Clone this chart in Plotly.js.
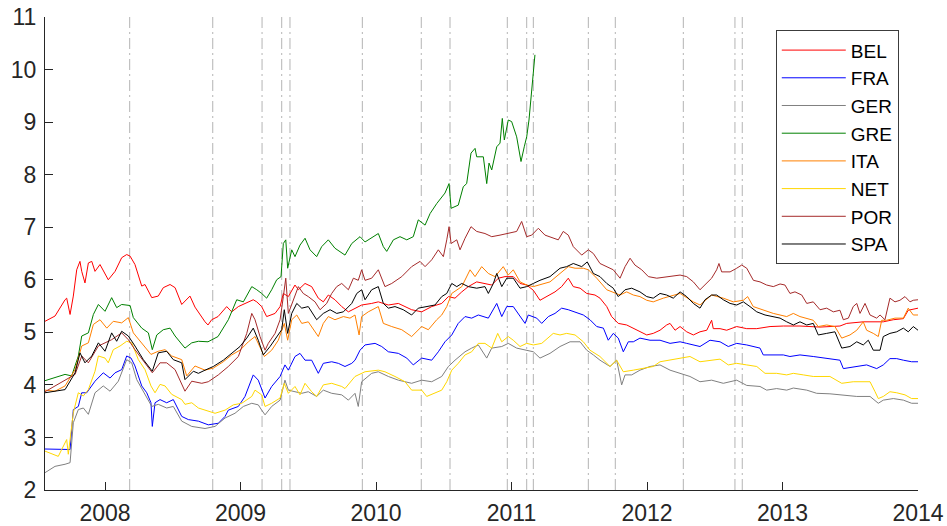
<!DOCTYPE html>
<html>
<head>
<meta charset="utf-8">
<script src="https://cdn.plot.ly/plotly-3.0.1.min.js"></script>
<style>html,body{margin:0;padding:0;background:#fff;}#chart{width:947px;height:526px;}</style>
</head>
<body>
<div id="chart"></div>
<script>
// Series names and colours
const seriesNames = ["BEL","FRA","GER","GRE","ITA","NET","POR","SPA"];
const seriesColors = ["#ff0000","#0000ff","#808080","#008000","#ff8000","#ffd700","#a52a2a","#000000"];

// Year ticks and event dates (decimal years)
const yearTicks = [2008,2009,2010,2011,2012,2013,2014];
const eventDates = [2008.182,2008.795,2009.159,2009.304,2009.365,2009.899,2010.334,2010.546,2010.969,2011.112,2011.161,2011.567,2011.766,2012.268,2012.649,2012.703];

// BEL
const belX = [2007.557,2007.631,2007.705,2007.717,2007.742,2007.766,2007.791,2007.815,2007.828,2007.852,2007.877,2007.902,2007.926,2007.963,2008.024,2008.074,2008.123,2008.160,2008.185,2008.221,2008.271,2008.295,2008.345,2008.393,2008.430,2008.480,2008.517,2008.566,2008.627,2008.664,2008.738,2008.760,2008.787,2008.834,2008.898,2008.935,2008.984,2009.033,2009.094,2009.120,2009.156,2009.193,2009.255,2009.292,2009.316,2009.353,2009.402,2009.427,2009.476,2009.525,2009.574,2009.611,2009.648,2009.697,2009.747,2009.796,2009.845,2009.894,2009.968,2010.017,2010.091,2010.165,2010.263,2010.337,2010.411,2010.485,2010.534,2010.583,2010.633,2010.681,2010.743,2010.804,2010.854,2010.903,2010.952,2011.013,2011.063,2011.112,2011.161,2011.210,2011.260,2011.321,2011.370,2011.419,2011.456,2011.506,2011.555,2011.616,2011.653,2011.703,2011.739,2011.788,2011.850,2011.899,2011.948,2011.998,2012.046,2012.096,2012.145,2012.170,2012.207,2012.244,2012.293,2012.342,2012.391,2012.441,2012.477,2012.489,2012.539,2012.588,2012.662,2012.736,2012.810,2012.908,2013.006,2013.129,2013.277,2013.424,2013.474,2013.596,2013.744,2013.818,2013.892,2013.928,2014.000];
const belY = [5.21,5.31,5.62,5.65,5.34,5.69,6.19,6.35,6.16,5.94,6.32,6.35,6.16,6.29,6.00,6.16,6.42,6.48,6.45,6.29,5.88,5.91,5.66,5.69,5.85,5.91,5.85,5.53,5.69,5.48,5.20,5.14,5.24,5.30,5.49,5.39,5.49,5.55,5.62,5.58,5.49,5.30,5.36,5.49,5.74,5.68,5.90,5.81,5.93,5.87,5.65,5.58,5.71,5.62,5.49,5.39,5.46,5.52,5.55,5.58,5.52,5.55,5.43,5.39,5.49,5.55,5.68,5.65,5.77,5.87,5.96,5.93,5.90,6.03,6.06,6.06,5.93,5.90,5.80,5.61,5.68,5.77,5.87,6.03,5.87,5.84,5.74,5.71,5.65,5.49,5.30,5.17,5.14,5.08,5.01,4.95,4.98,5.04,5.14,5.17,5.04,5.11,5.01,4.95,5.01,5.04,5.23,5.07,5.07,5.04,5.11,5.07,5.07,5.11,5.12,5.12,5.10,5.12,5.17,5.20,5.20,5.24,5.26,5.42,5.46];

// FRA
const fraX = [2007.557,2007.705,2007.742,2007.766,2007.803,2007.828,2007.865,2007.926,2007.987,2008.037,2008.074,2008.123,2008.160,2008.192,2008.221,2008.271,2008.308,2008.339,2008.349,2008.369,2008.406,2008.455,2008.504,2008.566,2008.615,2008.689,2008.762,2008.836,2008.886,2008.910,2008.984,2009.033,2009.094,2009.131,2009.156,2009.181,2009.230,2009.292,2009.328,2009.353,2009.402,2009.439,2009.476,2009.525,2009.574,2009.611,2009.673,2009.722,2009.771,2009.821,2009.845,2009.882,2009.919,2009.993,2010.042,2010.091,2010.165,2010.227,2010.275,2010.337,2010.411,2010.460,2010.509,2010.559,2010.607,2010.657,2010.706,2010.755,2010.829,2010.891,2010.928,2010.965,2011.013,2011.063,2011.100,2011.124,2011.186,2011.223,2011.272,2011.321,2011.370,2011.419,2011.469,2011.530,2011.579,2011.629,2011.678,2011.714,2011.751,2011.788,2011.825,2011.862,2011.899,2011.948,2012.022,2012.096,2012.170,2012.244,2012.293,2012.342,2012.391,2012.465,2012.539,2012.600,2012.662,2012.736,2012.834,2012.858,2012.932,2013.006,2013.055,2013.129,2013.227,2013.326,2013.424,2013.449,2013.548,2013.621,2013.695,2013.744,2013.793,2013.843,2013.892,2013.953,2014.000];
const fraY = [2.78,2.78,2.77,3.53,3.59,3.85,3.85,4.07,4.23,4.13,4.23,4.29,4.55,4.51,4.36,3.98,3.85,3.66,3.21,3.66,3.72,3.66,3.72,3.40,3.34,3.31,3.24,3.27,3.40,3.52,3.59,3.78,4.19,4.09,3.90,3.75,3.97,4.16,4.38,4.28,4.54,4.60,4.47,4.47,4.22,4.41,4.44,4.41,4.35,4.41,4.47,4.66,4.76,4.79,4.73,4.63,4.60,4.51,4.38,4.51,4.47,4.63,4.82,4.95,5.17,5.30,5.27,5.33,5.27,5.55,5.30,5.49,5.49,5.30,5.17,5.33,5.27,5.17,5.30,5.36,5.46,5.43,5.39,5.33,5.24,5.11,5.08,4.85,4.98,4.89,4.63,4.82,4.82,4.89,4.85,4.85,4.79,4.82,4.79,4.76,4.73,4.85,4.82,4.73,4.79,4.76,4.70,4.57,4.57,4.57,4.54,4.57,4.54,4.51,4.47,4.31,4.35,4.38,4.31,4.38,4.50,4.50,4.47,4.44,4.44];

// GER
const gerX = [2007.557,2007.631,2007.705,2007.742,2007.766,2007.803,2007.840,2007.877,2007.926,2007.987,2008.037,2008.098,2008.160,2008.197,2008.234,2008.295,2008.345,2008.393,2008.455,2008.504,2008.566,2008.640,2008.738,2008.812,2008.886,2008.959,2009.021,2009.083,2009.131,2009.156,2009.181,2009.230,2009.292,2009.328,2009.353,2009.402,2009.452,2009.500,2009.562,2009.611,2009.673,2009.747,2009.796,2009.845,2009.869,2009.894,2009.968,2010.017,2010.091,2010.165,2010.263,2010.337,2010.411,2010.485,2010.534,2010.583,2010.657,2010.706,2010.755,2010.817,2010.854,2010.928,2010.976,2011.038,2011.112,2011.161,2011.210,2011.284,2011.358,2011.432,2011.506,2011.555,2011.604,2011.653,2011.727,2011.776,2011.813,2011.838,2011.887,2011.948,2012.022,2012.096,2012.170,2012.244,2012.317,2012.391,2012.477,2012.563,2012.662,2012.736,2012.834,2012.883,2012.957,2013.031,2013.080,2013.179,2013.252,2013.350,2013.449,2013.548,2013.646,2013.707,2013.744,2013.818,2013.892,2013.953,2014.000];
const gerY = [2.33,2.45,2.49,2.52,3.28,3.53,3.56,3.44,3.85,3.98,3.88,4.07,4.48,4.42,4.10,3.82,3.59,3.63,3.56,3.59,3.31,3.21,3.17,3.21,3.37,3.46,3.59,3.65,3.62,3.52,3.43,3.59,3.71,4.09,3.90,3.87,3.84,3.87,3.78,3.90,3.84,3.81,3.71,3.84,3.59,4.06,4.22,4.25,4.16,4.09,4.03,4.09,4.06,4.16,4.35,4.47,4.63,4.70,4.76,4.51,4.70,4.73,4.79,4.70,4.66,4.63,4.51,4.60,4.73,4.82,4.82,4.66,4.57,4.47,4.35,4.47,4.00,4.19,4.19,4.28,4.35,4.38,4.28,4.22,4.16,4.06,4.09,4.03,4.09,3.99,3.97,3.90,3.93,3.90,3.94,3.90,3.84,3.83,3.81,3.78,3.78,3.65,3.71,3.74,3.71,3.65,3.65];

// GRE
const greX = [2007.557,2007.705,2007.754,2007.803,2007.828,2007.877,2007.914,2007.951,2008.000,2008.049,2008.086,2008.123,2008.185,2008.209,2008.271,2008.320,2008.349,2008.382,2008.430,2008.480,2008.517,2008.590,2008.640,2008.689,2008.760,2008.834,2008.910,2008.972,2009.021,2009.083,2009.120,2009.156,2009.193,2009.230,2009.267,2009.299,2009.316,2009.334,2009.348,2009.378,2009.402,2009.439,2009.476,2009.513,2009.562,2009.599,2009.648,2009.697,2009.771,2009.821,2009.882,2009.919,2010.017,2010.054,2010.079,2010.128,2010.177,2010.227,2010.275,2010.312,2010.362,2010.399,2010.448,2010.485,2010.509,2010.539,2010.554,2010.607,2010.644,2010.669,2010.701,2010.731,2010.743,2010.792,2010.817,2010.834,2010.854,2010.891,2010.915,2010.932,2010.947,2010.976,2011.001,2011.038,2011.070,2011.094,2011.112,2011.129,2011.149,2011.173];
const greY = [4.08,4.20,4.17,4.55,4.93,4.99,5.34,5.53,5.40,5.66,5.47,5.53,5.51,5.28,5.08,4.99,4.67,4.95,5.05,5.08,4.93,4.70,4.80,4.83,4.82,4.92,5.24,5.62,5.58,5.87,5.81,5.74,5.65,5.81,6.00,6.06,6.69,6.76,6.22,6.57,6.44,6.66,6.79,6.57,6.44,6.63,6.76,6.60,6.47,6.69,6.82,6.72,6.88,6.63,6.54,6.76,6.82,6.76,6.82,7.14,7.04,7.26,7.45,7.58,7.65,7.83,7.36,7.42,7.77,7.83,8.41,8.50,8.34,8.34,7.83,8.22,8.09,8.53,8.60,9.07,8.66,9.04,9.01,8.72,8.25,8.53,8.72,9.04,9.61,10.28];

// ITA
const itaX = [2007.557,2007.631,2007.705,2007.779,2007.828,2007.877,2007.914,2007.963,2008.013,2008.061,2008.123,2008.172,2008.209,2008.271,2008.339,2008.393,2008.443,2008.492,2008.566,2008.603,2008.664,2008.738,2008.799,2008.873,2008.935,2008.996,2009.058,2009.107,2009.156,2009.176,2009.230,2009.279,2009.323,2009.348,2009.378,2009.415,2009.452,2009.500,2009.574,2009.611,2009.648,2009.697,2009.759,2009.808,2009.845,2009.875,2009.894,2009.943,2010.017,2010.054,2010.116,2010.190,2010.263,2010.337,2010.386,2010.448,2010.485,2010.522,2010.559,2010.633,2010.694,2010.731,2010.780,2010.829,2010.878,2010.939,2010.976,2011.013,2011.063,2011.112,2011.161,2011.210,2011.284,2011.358,2011.419,2011.469,2011.530,2011.567,2011.629,2011.703,2011.764,2011.801,2011.850,2011.899,2011.948,2011.998,2012.046,2012.120,2012.244,2012.342,2012.391,2012.477,2012.563,2012.637,2012.711,2012.743,2012.784,2012.858,2012.932,2013.031,2013.080,2013.129,2013.179,2013.227,2013.264,2013.326,2013.387,2013.437,2013.498,2013.548,2013.596,2013.621,2013.670,2013.707,2013.732,2013.769,2013.830,2013.892,2013.928,2013.965,2014.000];
const itaY = [3.90,3.88,3.98,4.29,4.74,4.80,5.15,5.24,5.08,5.21,5.18,5.28,4.99,4.80,4.58,4.64,4.67,4.55,4.48,4.17,4.36,4.28,4.32,4.44,4.57,4.66,4.82,4.92,4.66,4.54,4.66,4.85,5.17,4.85,5.24,5.33,5.17,5.20,4.92,5.17,5.30,5.24,5.30,5.27,5.33,4.95,5.30,5.39,5.49,5.17,5.11,5.05,4.92,5.11,5.05,5.24,5.33,5.49,5.74,5.87,6.19,6.06,6.25,6.12,6.06,6.25,6.09,6.19,5.96,5.90,5.87,5.90,5.96,6.12,6.25,6.22,6.22,6.19,6.03,5.81,5.74,5.71,5.77,5.71,5.68,5.61,5.58,5.65,5.74,5.58,5.52,5.71,5.65,5.58,5.61,5.68,5.49,5.42,5.36,5.30,5.36,5.30,5.27,5.23,5.11,5.14,5.11,4.89,4.95,5.04,5.20,5.04,4.98,4.92,5.23,5.23,5.27,5.27,5.46,5.33,5.33];

// NET
const netX = [2007.557,2007.655,2007.717,2007.729,2007.766,2007.803,2007.840,2007.877,2007.926,2007.951,2008.000,2008.024,2008.061,2008.111,2008.160,2008.197,2008.246,2008.295,2008.339,2008.369,2008.406,2008.443,2008.492,2008.566,2008.590,2008.640,2008.689,2008.738,2008.812,2008.886,2008.947,2009.009,2009.083,2009.107,2009.156,2009.181,2009.230,2009.292,2009.323,2009.353,2009.402,2009.439,2009.476,2009.525,2009.562,2009.611,2009.673,2009.747,2009.771,2009.845,2009.919,2010.017,2010.066,2010.140,2010.214,2010.263,2010.337,2010.374,2010.435,2010.485,2010.522,2010.559,2010.607,2010.657,2010.706,2010.755,2010.804,2010.854,2010.898,2010.928,2010.976,2011.013,2011.063,2011.112,2011.161,2011.223,2011.308,2011.358,2011.407,2011.469,2011.530,2011.579,2011.653,2011.727,2011.776,2011.825,2011.899,2011.973,2012.046,2012.096,2012.170,2012.244,2012.317,2012.391,2012.477,2012.539,2012.600,2012.662,2012.736,2012.810,2012.871,2012.957,2013.031,2013.080,2013.154,2013.227,2013.350,2013.437,2013.522,2013.646,2013.683,2013.707,2013.744,2013.793,2013.843,2013.904,2013.953,2014.000];
const netY = [2.74,2.64,2.96,2.68,3.47,3.85,3.79,3.91,4.26,4.55,4.51,4.42,4.67,4.74,4.83,4.80,4.48,4.29,3.98,3.85,4.01,3.98,3.82,3.72,3.63,3.66,3.56,3.52,3.46,3.52,3.62,3.65,3.78,3.90,3.81,3.59,3.65,3.75,4.03,3.84,3.97,3.81,4.03,3.87,3.78,4.00,4.03,3.97,3.93,4.16,4.25,4.28,4.25,4.16,4.06,3.90,3.90,3.78,3.84,3.90,4.06,4.28,4.41,4.57,4.63,4.79,4.79,4.70,4.98,4.82,4.92,4.85,4.73,4.79,4.76,4.79,4.98,4.95,4.98,4.95,4.82,4.66,4.54,4.35,4.47,4.25,4.28,4.32,4.35,4.44,4.47,4.50,4.54,4.44,4.47,4.49,4.38,4.41,4.38,4.35,4.22,4.22,4.19,4.22,4.19,4.16,4.16,4.03,4.06,4.06,3.87,3.74,3.78,3.87,3.85,3.81,3.74,3.74];

// POR
const porX = [2007.557,2007.779,2007.828,2007.877,2007.951,2008.049,2008.123,2008.172,2008.221,2008.295,2008.349,2008.406,2008.455,2008.517,2008.590,2008.640,2008.714,2008.762,2008.836,2008.910,2008.984,2009.046,2009.083,2009.107,2009.144,2009.181,2009.205,2009.255,2009.292,2009.316,2009.334,2009.353,2009.390,2009.427,2009.463,2009.500,2009.550,2009.587,2009.636,2009.673,2009.710,2009.747,2009.796,2009.833,2009.869,2009.894,2009.919,2009.968,2010.017,2010.066,2010.116,2010.190,2010.263,2010.325,2010.362,2010.411,2010.460,2010.497,2010.522,2010.539,2010.554,2010.596,2010.620,2010.657,2010.701,2010.743,2010.804,2010.854,2010.915,2010.976,2011.038,2011.075,2011.112,2011.149,2011.198,2011.247,2011.309,2011.345,2011.382,2011.419,2011.456,2011.518,2011.567,2011.604,2011.653,2011.703,2011.751,2011.801,2011.838,2011.875,2011.911,2011.961,2012.010,2012.072,2012.170,2012.244,2012.293,2012.342,2012.391,2012.428,2012.477,2012.514,2012.531,2012.551,2012.613,2012.662,2012.699,2012.736,2012.785,2012.834,2012.883,2012.932,2012.982,2013.018,2013.055,2013.092,2013.142,2013.179,2013.227,2013.277,2013.326,2013.375,2013.424,2013.449,2013.486,2013.522,2013.548,2013.572,2013.609,2013.646,2013.695,2013.720,2013.756,2013.793,2013.830,2013.867,2013.904,2013.941,2013.965,2014.000];
const porY = [3.87,4.20,4.55,4.42,4.74,4.86,4.99,4.86,4.67,4.42,4.23,4.42,4.42,4.29,3.88,4.07,4.03,4.06,4.19,4.35,4.54,4.98,5.36,5.24,4.92,4.66,4.79,4.98,5.24,5.68,6.03,5.36,5.62,5.87,5.74,5.68,5.58,5.43,5.55,5.74,5.87,5.93,5.81,6.03,5.99,6.19,5.99,6.03,6.19,5.87,5.93,6.06,6.25,6.35,6.25,6.38,6.57,6.44,6.76,7.01,6.69,6.76,6.57,6.79,7.01,6.92,6.88,6.82,6.85,6.88,6.92,7.11,6.82,6.85,6.98,6.85,6.79,6.76,6.92,6.85,6.63,6.47,6.57,6.50,6.31,6.25,6.19,6.03,6.25,6.41,6.28,6.19,6.06,6.03,6.06,6.09,6.06,5.96,5.81,5.90,6.03,6.19,6.31,6.15,6.15,6.22,6.28,6.22,5.99,5.96,5.90,5.87,5.92,5.90,5.74,5.77,5.71,5.55,5.58,5.43,5.46,5.39,5.42,5.24,5.27,5.49,5.55,5.36,5.55,5.33,5.27,5.33,5.24,5.65,5.58,5.61,5.68,5.58,5.61,5.62];

// SPA
const spaX = [2007.557,2007.705,2007.779,2007.815,2007.852,2007.902,2007.951,2008.000,2008.049,2008.086,2008.123,2008.172,2008.221,2008.283,2008.349,2008.393,2008.455,2008.504,2008.566,2008.590,2008.652,2008.689,2008.738,2008.799,2008.873,2008.935,2008.996,2009.046,2009.094,2009.131,2009.168,2009.218,2009.267,2009.304,2009.323,2009.348,2009.378,2009.415,2009.452,2009.500,2009.562,2009.611,2009.661,2009.710,2009.759,2009.821,2009.858,2009.894,2009.919,2009.968,2010.017,2010.054,2010.091,2010.140,2010.201,2010.263,2010.312,2010.374,2010.435,2010.485,2010.522,2010.559,2010.596,2010.633,2010.681,2010.743,2010.804,2010.829,2010.866,2010.891,2010.928,2010.965,2011.013,2011.063,2011.112,2011.161,2011.210,2011.284,2011.358,2011.407,2011.456,2011.518,2011.559,2011.604,2011.653,2011.703,2011.751,2011.788,2011.838,2011.887,2011.948,2011.998,2012.046,2012.096,2012.145,2012.194,2012.244,2012.293,2012.342,2012.391,2012.428,2012.477,2012.514,2012.563,2012.613,2012.662,2012.711,2012.760,2012.810,2012.871,2012.932,2012.982,2013.031,2013.080,2013.129,2013.179,2013.227,2013.264,2013.326,2013.387,2013.437,2013.498,2013.548,2013.596,2013.633,2013.670,2013.720,2013.744,2013.793,2013.843,2013.892,2013.928,2013.965,2014.000];
const spaY = [3.85,3.91,4.23,4.61,4.42,4.55,4.80,4.64,4.99,4.83,5.02,4.93,4.74,4.48,4.26,4.61,4.64,4.48,4.42,4.10,4.26,4.22,4.28,4.35,4.47,4.60,4.73,4.89,5.08,4.85,4.57,4.73,4.92,5.05,5.43,4.98,5.36,5.55,5.46,5.49,5.24,5.36,5.43,5.36,5.39,5.55,5.74,5.81,5.62,5.81,5.87,5.55,5.46,5.49,5.43,5.33,5.46,5.49,5.52,5.68,5.74,5.93,5.87,5.93,5.87,5.84,5.87,5.74,5.93,6.12,5.87,6.03,6.03,5.84,5.87,5.93,5.99,6.06,6.22,6.25,6.31,6.25,6.34,6.12,6.06,5.93,5.84,5.68,5.81,5.84,5.77,5.68,5.65,5.74,5.71,5.65,5.77,5.68,5.55,5.46,5.62,5.71,5.71,5.62,5.55,5.52,5.58,5.49,5.39,5.33,5.30,5.27,5.20,5.14,5.20,5.14,5.17,4.95,4.98,5.01,4.70,4.73,4.82,4.76,4.85,4.66,4.66,4.92,4.98,5.01,5.08,5.01,5.11,5.04];

const seriesX = [belX, fraX, gerX, greX, itaX, netX, porX, spaX];
const seriesY = [belY, fraY, gerY, greY, itaY, netY, porY, spaY];

const traces = seriesNames.map((name, i) => ({
  type: 'scatter',
  mode: 'lines',
  name: name,
  x: seriesX[i],
  y: seriesY[i],
  line: {color: seriesColors[i], width: 1}
}));

const axisColor = '#262626';
const tickFont = {family: 'Liberation Sans, Arial, sans-serif', size: 23, color: axisColor};

const layout = {
  width: 947,
  height: 526,
  margin: {l: 45, r: 29, t: 17, b: 36, pad: 0},
  paper_bgcolor: '#ffffff',
  plot_bgcolor: '#ffffff',
  showlegend: true,
  legend: {
    x: 0.978, y: 0.972, xanchor: 'right', yanchor: 'top',
    bordercolor: '#3c3c3c', borderwidth: 1, bgcolor: '#ffffff',
    font: {family: 'Liberation Sans, Arial, sans-serif', size: 19, color: '#000000'},
    itemwidth: 64, tracegroupgap: 0
  },
  xaxis: {
    range: [2007.557, 2014],
    tickmode: 'array',
    tickvals: yearTicks,
    ticktext: yearTicks.map(String),
    ticks: 'inside', ticklen: 8, tickwidth: 1, tickcolor: axisColor,
    showline: true, linecolor: axisColor, linewidth: 1,
    showgrid: false, zeroline: false,
    ticklabelstandoff: 2,
    tickfont: tickFont
  },
  yaxis: {
    range: [2, 11],
    tick0: 2, dtick: 1,
    ticks: 'inside', ticklen: 8, tickwidth: 1, tickcolor: axisColor,
    showline: true, linecolor: axisColor, linewidth: 1,
    showgrid: false, zeroline: false,
    ticklabelstandoff: 3,
    tickfont: tickFont
  },
  shapes: eventDates.map(d => ({
    type: 'line', xref: 'x', yref: 'paper',
    x0: d, x1: d, y0: 0, y1: 1,
    layer: 'below',
    line: {color: '#b4b4b4', width: 1, dash: '11px,4px,2px,4px'}
  }))
};

Plotly.newPlot('chart', traces, layout, {displayModeBar: false, staticPlot: true});
</script>
</body>
</html>
